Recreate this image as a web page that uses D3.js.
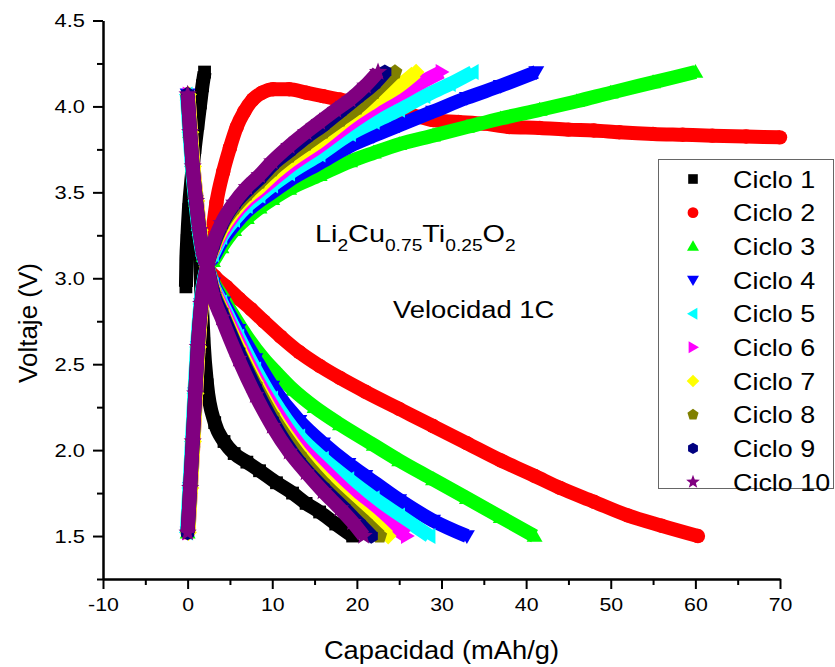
<!DOCTYPE html>
<html>
<head>
<meta charset="utf-8">
<script src="https://cdn.jsdelivr.net/npm/d3@7"></script>
<style>
  body { margin: 0; background: #fff; }
  svg { display: block; }
  text { font-family: "Liberation Sans", Arial, sans-serif; fill: #000; }
</style>
</head>
<body>
<svg id="chart" width="835" height="667"></svg>
<script>
// ---- Data: capacity (mAh/g) vs voltage (V), charge and discharge per cycle ----
const cycleNames = ["Ciclo 1", "Ciclo 2", "Ciclo 3", "Ciclo 4", "Ciclo 5",
                    "Ciclo 6", "Ciclo 7", "Ciclo 8", "Ciclo 9", "Ciclo 10"];

const xTicks = [-10, 0, 10, 20, 30, 40, 50, 60, 70];
const xMinorTicks = [-5, 5, 15, 25, 35, 45, 55, 65];
const yTicks = [1.5, 2.0, 2.5, 3.0, 3.5, 4.0, 4.5];
const yTickLabels = ["1.5", "2.0", "2.5", "3.0", "3.5", "4.0", "4.5"];
const yMinorTicks = [1.25, 1.75, 2.25, 2.75, 3.25, 3.75, 4.25];

const ciclo1Carga = [[-0.2,2.95],[-0.15,3.1],[-0.05,3.22],[0.15,3.4],[0.5,3.6],[0.85,3.76],[1.2,3.9],[1.5,4.02],[1.75,4.12],[2.0,4.2]];
const ciclo1Descarga = [[1.3,3.3],[1.6,2.95],[1.9,2.62],[2.3,2.38],[3.2,2.16],[4.3,2.05],[5.5,1.98],[7,1.93],[8.5,1.88],[10.5,1.81],[12.4,1.75],[14,1.69],[15.6,1.64],[17.5,1.57],[19.5,1.5]];

const ciclo2Carga = [[0,1.52],[0.3,1.78],[0.6,2.05],[0.9,2.33],[1.2,2.6],[1.6,2.85],[2.3,3.07],[2.8,3.22],[3.4,3.44],[4.2,3.62],[5,3.76],[5.8,3.88],[6.7,3.97],[7.7,4.04],[8.8,4.08],[10.1,4.1],[12,4.1],[14,4.08],[16,4.06],[18,4.04],[20,4.02],[22,3.99],[24,3.97],[26.5,3.95],[29,3.92],[32,3.91],[35,3.9],[38,3.88],[41.6,3.875],[45,3.865],[48,3.86],[51,3.85],[55,3.84],[58.5,3.835],[62,3.83],[66,3.825],[70,3.82]];
const ciclo2Descarga = [[0,4.07],[0.3,3.85],[0.6,3.65],[1.0,3.45],[1.4,3.28],[1.9,3.13],[2.3,3.07],[3.2,3.01],[4.6,2.95],[6.1,2.88],[7.5,2.82],[9,2.75],[11,2.66],[13.2,2.57],[15.6,2.49],[18,2.42],[21,2.34],[25,2.24],[29,2.14],[33,2.04],[37,1.94],[41,1.85],[44,1.78],[48,1.7],[52,1.62],[56,1.56],[60.3,1.5]];

const ciclo3Carga = [[0,1.52],[0.3,1.78],[0.6,2.05],[0.9,2.33],[1.2,2.6],[1.6,2.85],[2.3,3.07],[3,3.1],[4,3.18],[5.5,3.28],[7,3.35],[8.5,3.41],[10,3.46],[12,3.52],[15.6,3.6],[19.2,3.68],[22,3.73],[25,3.78],[29,3.83],[33,3.88],[37,3.93],[41.6,3.98],[46,4.03],[50,4.08],[55,4.14],[60,4.2]];
const ciclo3Descarga = [[0,4.07],[0.3,3.85],[0.6,3.65],[1.0,3.45],[1.4,3.28],[1.9,3.13],[2.3,3.07],[3,2.98],[4,2.9],[5.2,2.8],[7,2.66],[9,2.53],[10.5,2.45],[12.5,2.35],[15,2.25],[18,2.15],[22,2.03],[25,1.94],[29,1.83],[33,1.72],[37,1.61],[41,1.5]];

const ciclo4Carga = [[0,1.52],[0.3,1.78],[0.6,2.05],[0.9,2.33],[1.2,2.6],[1.6,2.85],[2.3,3.07],[3,3.12],[4,3.21],[5.5,3.31],[7,3.39],[8.5,3.45],[10,3.5],[12,3.57],[15.6,3.67],[19.2,3.77],[22,3.83],[25,3.89],[29,3.97],[33,4.05],[37,4.12],[41.2,4.2]];
const ciclo4Descarga = [[0,4.07],[0.3,3.85],[0.6,3.65],[1.0,3.45],[1.4,3.28],[1.9,3.13],[2.3,3.07],[3,2.97],[4.2,2.86],[6,2.7],[8,2.53],[10,2.37],[13.2,2.17],[16,2.04],[19,1.92],[21,1.85],[25,1.71],[29,1.59],[33,1.5]];

const ciclo5Carga = [[-0.1,1.52],[0.2,1.78],[0.5,2.05],[0.8,2.33],[1.1,2.6],[1.5,2.85],[2.3,3.07],[3,3.14],[4,3.24],[5.5,3.34],[7,3.42],[8.5,3.48],[10,3.54],[12,3.61],[15.6,3.72],[19.2,3.84],[22,3.91],[25,3.98],[28,4.06],[31,4.13],[33.7,4.2]];
const ciclo5Descarga = [[-0.1,4.07],[0.2,3.85],[0.5,3.65],[0.9,3.45],[1.3,3.28],[1.8,3.13],[2.3,3.07],[3,2.96],[4,2.86],[6,2.66],[8,2.47],[10,2.3],[13.2,2.08],[16,1.95],[19,1.83],[22,1.72],[25,1.62],[28.6,1.5]];

const ciclo6Carga = [[0.1,1.52],[0.4,1.78],[0.7,2.05],[1.0,2.33],[1.3,2.6],[1.7,2.85],[2.3,3.07],[3,3.16],[4,3.26],[5.5,3.37],[7,3.45],[8.5,3.51],[10,3.57],[12,3.65],[15.6,3.77],[19.2,3.9],[22,3.99],[25,4.07],[28,4.15],[30,4.2]];
const ciclo6Descarga = [[0.1,4.07],[0.4,3.85],[0.7,3.65],[1.1,3.45],[1.5,3.28],[2.0,3.13],[2.3,3.07],[3,2.95],[4,2.84],[6,2.63],[8,2.43],[10,2.26],[13.2,2.03],[16,1.89],[19,1.75],[22,1.63],[25.9,1.5]];

const ciclo7Carga = [[0.1,1.52],[0.4,1.78],[0.7,2.05],[1.0,2.33],[1.3,2.6],[1.7,2.85],[2.3,3.07],[3,3.17],[4,3.28],[5.5,3.39],[7,3.47],[8.5,3.53],[10,3.6],[12,3.68],[15.6,3.8],[19.2,3.94],[22,4.03],[25,4.12],[27,4.2]];
const ciclo7Descarga = [[0.1,4.07],[0.4,3.85],[0.7,3.65],[1.1,3.45],[1.5,3.28],[2.0,3.13],[2.3,3.07],[3,2.94],[4,2.82],[6,2.6],[8,2.4],[10,2.22],[13.2,1.99],[16,1.84],[19,1.7],[21.5,1.6],[23.7,1.5]];

const ciclo8Carga = [[0,1.52],[0.3,1.78],[0.6,2.05],[0.9,2.33],[1.2,2.6],[1.6,2.85],[2.3,3.07],[3,3.18],[4,3.3],[5.5,3.41],[7,3.49],[8.5,3.56],[10,3.63],[12,3.71],[14,3.78],[16,3.85],[18,3.92],[20,3.99],[22,4.08],[24.5,4.2]];
const ciclo8Descarga = [[0,4.07],[0.3,3.85],[0.6,3.65],[1.0,3.45],[1.4,3.28],[1.9,3.13],[2.3,3.07],[3,2.93],[4,2.81],[6,2.58],[8,2.38],[10,2.2],[13.2,1.97],[16,1.81],[19,1.67],[21,1.58],[22.7,1.5]];

const ciclo9Carga = [[0,1.52],[0.3,1.78],[0.6,2.05],[0.9,2.33],[1.2,2.6],[1.6,2.85],[2.3,3.07],[3,3.19],[4,3.31],[5.5,3.43],[7,3.51],[8.5,3.58],[10,3.66],[12,3.74],[14,3.82],[16,3.89],[18,3.97],[20,4.05],[22,4.13],[23.3,4.2]];
const ciclo9Descarga = [[0,4.07],[0.3,3.85],[0.6,3.65],[1.0,3.45],[1.4,3.28],[1.9,3.13],[2.3,3.07],[3,2.92],[4,2.8],[6,2.57],[8,2.36],[10,2.17],[13.2,1.93],[16,1.78],[18.5,1.66],[20.3,1.57],[21.7,1.5]];

const ciclo10Carga = [[0,1.52],[0.3,1.78],[0.6,2.05],[0.9,2.33],[1.2,2.6],[1.6,2.85],[2.3,3.07],[3,3.2],[4,3.32],[5.5,3.44],[7,3.53],[8.5,3.6],[10,3.68],[12,3.77],[14,3.85],[15.6,3.91],[17.5,3.98],[19.2,4.04],[21,4.12],[22.5,4.2]];
const ciclo10Descarga = [[0,4.07],[0.3,3.85],[0.6,3.65],[1.0,3.45],[1.4,3.28],[1.9,3.13],[2.3,3.07],[3,2.9],[4,2.77],[6,2.53],[8,2.32],[10,2.14],[12,1.99],[14,1.87],[16,1.76],[18,1.66],[19.5,1.58],[20.8,1.5]];

const chargeCurves = [ciclo1Carga, ciclo2Carga, ciclo3Carga, ciclo4Carga, ciclo5Carga,
                      ciclo6Carga, ciclo7Carga, ciclo8Carga, ciclo9Carga, ciclo10Carga];
const dischargeCurves = [ciclo1Descarga, ciclo2Descarga, ciclo3Descarga, ciclo4Descarga, ciclo5Descarga,
                         ciclo6Descarga, ciclo7Descarga, ciclo8Descarga, ciclo9Descarga, ciclo10Descarga];

// ---- Styling ----
const cycleColors = ["#000000", "#ff0000", "#00ff00", "#0000ff", "#00ffff",
                     "#ff00ff", "#ffff00", "#808000", "#000080", "#800080"];

function polygonType(points) {
  return {
    draw(context, size) {
      const r = Math.sqrt(size);
      points.forEach(([a, b], i) => i ? context.lineTo(a * r, b * r) : context.moveTo(a * r, b * r));
      context.closePath();
    }
  };
}
function regular(n, startDeg, scale) {
  return d3.range(n).map(k => {
    const a = (startDeg + k * 360 / n) * Math.PI / 180;
    return [scale * Math.cos(a), scale * Math.sin(a)];
  });
}
const circleType = {
  draw(context, size) {
    const r = Math.sqrt(size) * 0.9;
    context.moveTo(r, 0);
    context.arc(0, 0, r, 0, 2 * Math.PI);
  }
};
const starPoints = d3.range(10).map(k => {
  const a = (-90 + k * 36) * Math.PI / 180;
  const rr = k % 2 === 0 ? 1.2 : 0.5;
  return [rr * Math.cos(a), rr * Math.sin(a)];
});
const cycleSymbols = [
  polygonType([[-0.8, -0.8], [0.8, -0.8], [0.8, 0.8], [-0.8, 0.8]]),
  circleType,
  polygonType(regular(3, -90, 1.15).map(([a, b]) => [a, b + 0.15])),
  polygonType(regular(3, 90, 1.15).map(([a, b]) => [a, b - 0.15])),
  polygonType(regular(3, 180, 1.15).map(([a, b]) => [a + 0.15, b])),
  polygonType(regular(3, 0, 1.15).map(([a, b]) => [a - 0.15, b])),
  polygonType(regular(4, -90, 1.05)),
  polygonType(regular(5, -90, 0.98)),
  polygonType(regular(6, -90, 0.95)),
  polygonType(starPoints)
];

// ---- Layout ----
const svg = d3.select("#chart");
const x = d3.scaleLinear().domain([-10, 70]).range([103, 780]);
const y = d3.scaleLinear().domain([1.25, 4.5]).range([579, 20.5]);

function stretch(selection, k) {
  selection.each(function () {
    const w = this.getComputedTextLength();
    this.setAttribute("textLength", (w * k).toFixed(1));
    this.setAttribute("lengthAdjust", "spacingAndGlyphs");
  });
}

// ---- Curves: each cycle drawn as a dense run of its markers ----
const line = d3.line()
  .x(d => x(d[0]))
  .y(d => y(d[1]))
  .curve(d3.curveMonotoneX);

const plot = svg.append("g").attr("class", "plot");
cycleNames.forEach((name, i) => {
  const g = plot.append("g").attr("class", "cycle");
  [chargeCurves[i], dischargeCurves[i]].forEach(curve => {
    g.append("path")
      .attr("d", line(curve))
      .attr("fill", "none")
      .attr("stroke", cycleColors[i])
      .attr("stroke-width", 14)
      .attr("stroke-linejoin", "round");
    g.selectAll(null)
      .data(curve)
      .join("path")
      .attr("transform", d => `translate(${x(d[0])},${y(d[1])})`)
      .attr("d", d3.symbol().type(cycleSymbols[i]).size(64))
      .attr("fill", cycleColors[i]);
  });
});

// ---- Axes ----
const axisStyle = g => {
  g.selectAll(".domain").attr("stroke", "#000").attr("stroke-width", 2);
  g.selectAll(".tick line").attr("stroke", "#000").attr("stroke-width", 2);
};

const xAxis = svg.append("g")
  .attr("transform", `translate(0,${y(1.25)})`)
  .call(d3.axisBottom(x).tickValues(xTicks).tickFormat(d => String(d))
    .tickSize(10).tickSizeOuter(0).tickPadding(9))
  .call(axisStyle);
xAxis.selectAll("text").attr("font-size", 19).attr("font-family", "Liberation Sans, Arial, sans-serif")
  .call(stretch, 1.12);
svg.append("g")
  .attr("transform", `translate(0,${y(1.25)})`)
  .call(d3.axisBottom(x).tickValues(xMinorTicks).tickFormat("").tickSize(6).tickSizeOuter(0))
  .call(axisStyle);

const yAxis = svg.append("g")
  .attr("transform", `translate(${x(-10)},0)`)
  .call(d3.axisLeft(y).tickValues(yTicks).tickFormat((d, i) => yTickLabels[i])
    .tickSize(10).tickSizeOuter(0).tickPadding(8))
  .call(axisStyle);
yAxis.selectAll("text").attr("font-size", 19).attr("font-family", "Liberation Sans, Arial, sans-serif")
  .call(stretch, 1.15);
svg.append("g")
  .attr("transform", `translate(${x(-10)},0)`)
  .call(d3.axisLeft(y).tickValues(yMinorTicks).tickFormat("").tickSize(6).tickSizeOuter(0))
  .call(axisStyle);

// ---- Axis titles ----
svg.append("text")
  .attr("x", 441.5).attr("y", 659)
  .attr("text-anchor", "middle")
  .attr("font-size", 26)
  .text("Capacidad (mAh/g)")
  .call(stretch, 1.05);

svg.append("text")
  .attr("transform", "translate(37,323) rotate(-90)")
  .attr("text-anchor", "middle")
  .attr("font-size", 26)
  .text("Voltaje (V)");

// ---- Annotations ----
const formula = svg.append("text")
  .attr("x", 315).attr("y", 242)
  .attr("font-size", 24);
[["Li", false], ["2", true], ["Cu", false], ["0.75", true], ["Ti", false],
 ["0.25", true], ["O", false], ["2", true]].forEach(([t, sub], k, arr) => {
  const prevSub = k > 0 && arr[k - 1][1];
  formula.append("tspan")
    .attr("font-size", sub ? 16 : 24)
    .attr("dy", sub ? (prevSub ? 0 : 9) : (prevSub ? -9 : 0))
    .text(t);
});
formula.call(stretch, 1.2);

svg.append("text")
  .attr("x", 393).attr("y", 318)
  .attr("font-size", 23)
  .text("Velocidad 1C")
  .call(stretch, 1.19);

// ---- Legend ----
const legend = svg.append("g").attr("class", "legend");
legend.append("rect")
  .attr("x", 658.5).attr("y", 159.5)
  .attr("width", 175).attr("height", 329)
  .attr("fill", "#fff")
  .attr("stroke", "#666").attr("stroke-width", 1);
const legendRow = d3.scaleLinear().domain([0, 9]).range([179, 482]);
cycleNames.forEach((name, i) => {
  const cy = legendRow(i);
  legend.append("path")
    .attr("transform", `translate(693,${cy})`)
    .attr("d", d3.symbol().type(cycleSymbols[i]).size(36))
    .attr("fill", cycleColors[i]);
  legend.append("text")
    .attr("x", 733).attr("y", cy + 8.5)
    .attr("font-size", 24)
    .text(name)
    .call(stretch, 1.12);
});
</script>
</body>
</html>
